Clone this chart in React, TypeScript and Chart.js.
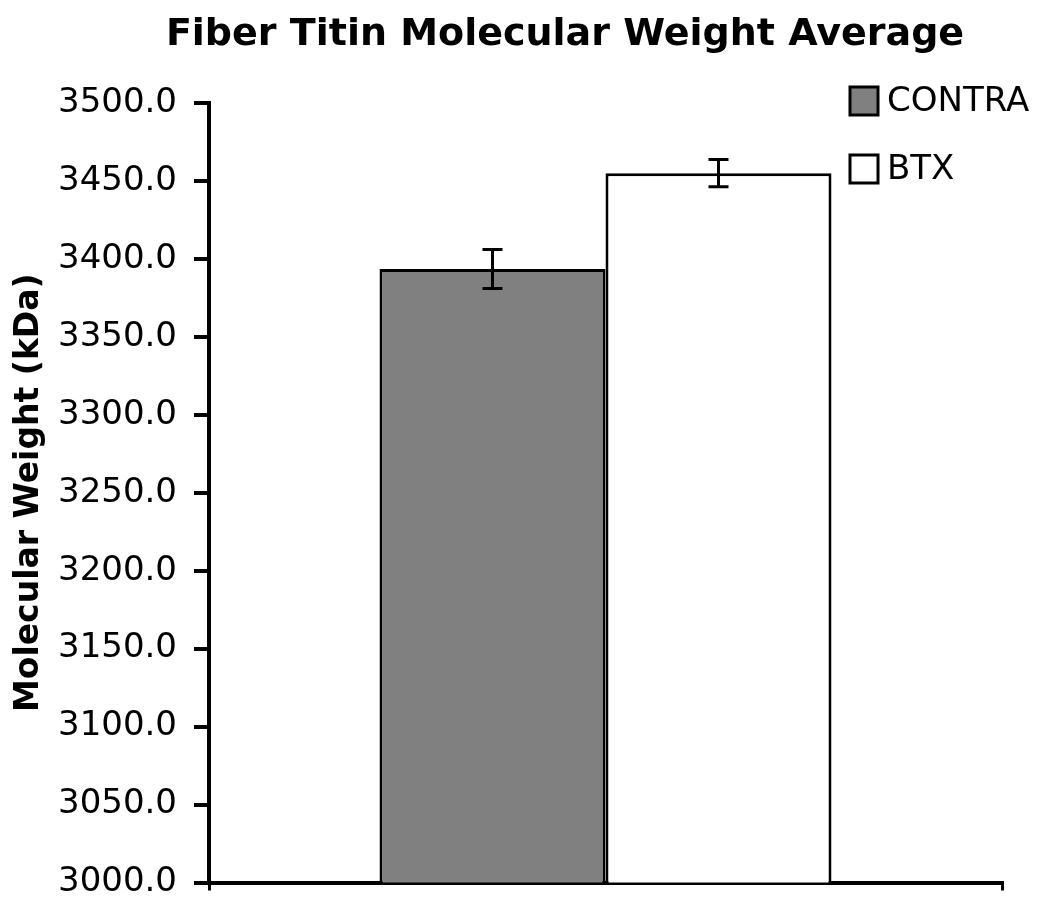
import React, { useEffect, useRef } from "react";
import { Chart, registerables } from "chart.js";

Chart.register(...registerables);

const categories = [""];
const seriesNames = ["CONTRA", "BTX"];
const contraValues = [3393.5];
const btxValues = [3455];
const contraErrors = [12.5];
const btxErrors = [8.8];
const seriesColors = ["#808080", "#ffffff"];
const yTicks = { min: 3000, max: 3500, step: 50 };
const titleText = "Fiber Titin Molecular Weight Average";
const yTitleText = "Molecular Weight (kDa)";

const FONT = "'DejaVu Sans', Verdana, sans-serif";

const errorBarPlugin = {
  id: "errorBars",
  afterDatasetsDraw(chart: any) {
    const ctx = chart.ctx;
    const yScale = chart.scales.y;
    const errs = [contraErrors, btxErrors];
    chart.data.datasets.forEach((ds: any, i: number) => {
      const meta = chart.getDatasetMeta(i);
      meta.data.forEach((bar: any, j: number) => {
        const v = ds.data[j];
        const e = errs[i][j];
        const x = bar.x;
        const yTop = yScale.getPixelForValue(v + e);
        const yBot = yScale.getPixelForValue(v - e);
        ctx.save();
        ctx.strokeStyle = "#000";
        ctx.lineWidth = 3;
        ctx.beginPath();
        ctx.moveTo(x, yTop);
        ctx.lineTo(x, yBot);
        ctx.moveTo(x - 10, yTop);
        ctx.lineTo(x + 10, yTop);
        ctx.moveTo(x - 10, yBot);
        ctx.lineTo(x + 10, yBot);
        ctx.stroke();
        ctx.restore();
      });
    });
  },
};

const titleAndLegendPlugin = {
  id: "titleAndLegend",
  afterDraw(chart: any) {
    const ctx = chart.ctx;
    ctx.save();
    // title
    ctx.fillStyle = "#000";
    ctx.font = `bold 38px ${FONT}`;
    ctx.textAlign = "center";
    ctx.textBaseline = "middle";
    ctx.fillText(titleText, 565, 35);
    // legend
    const x0 = 850;
    const rows = [101, 169];
    chart.data.datasets.forEach((ds: any, i: number) => {
      const cy = rows[i];
      ctx.fillStyle = ds.backgroundColor;
      ctx.fillRect(x0, cy - 14, 28, 28);
      ctx.strokeStyle = "#000";
      ctx.lineWidth = 3;
      ctx.strokeRect(x0, cy - 14, 28, 28);
      ctx.fillStyle = "#000";
      ctx.font = `34px ${FONT}`;
      ctx.textAlign = "left";
      ctx.textBaseline = "middle";
      ctx.fillText(ds.label, x0 + 37, cy + 1);
    });
    ctx.restore();
  },
};

export default function App() {
  const ref = useRef<HTMLCanvasElement | null>(null);

  useEffect(() => {
    document.body.style.margin = "0";
    const canvas = ref.current;
    if (!canvas) return;
    const chart = new Chart(canvas, {
      type: "bar",
      data: {
        labels: categories,
        datasets: [
          {
            label: seriesNames[0],
            data: contraValues,
            backgroundColor: seriesColors[0],
            borderColor: "#000",
            borderWidth: 3,
            borderSkipped: false,
          },
          {
            label: seriesNames[1],
            data: btxValues,
            backgroundColor: seriesColors[1],
            borderColor: "#000",
            borderWidth: 3,
            borderSkipped: false,
          },
        ],
      },
      options: {
        responsive: false,
        animation: false,
        devicePixelRatio: 1,
        layout: { padding: { left: 0, right: 48, top: 103, bottom: 0 } },
        datasets: {
          bar: { categoryPercentage: 0.57, barPercentage: 1 },
        },
        plugins: {
          legend: { display: false },
          tooltip: { enabled: false },
          title: { display: false },
        },
        scales: {
          x: {
            offset: true,
            grid: {
              offset: true,
              drawOnChartArea: false,
              drawTicks: true,
              tickLength: 8,
              color: "#000",
              lineWidth: 3,
            },
            border: { display: true, color: "#000", width: 4 },
            ticks: { display: false },
            afterFit: (scale: any) => {
              scale.height = 24;
            },
          },
          y: {
            min: yTicks.min,
            max: yTicks.max,
            ticks: {
              stepSize: yTicks.step,
              color: "#000",
              font: { family: FONT, size: 34, lineHeight: 0.5 },
              padding: 17,
              callback: (v: any) => Number(v).toFixed(1),
            },
            grid: {
              drawOnChartArea: false,
              drawTicks: true,
              tickLength: 15,
              color: "#000",
              lineWidth: 4,
            },
            border: { display: true, color: "#000", width: 4 },
            title: {
              display: true,
              text: yTitleText,
              color: "#000",
              font: { family: FONT, size: 33, weight: "bold" },
              padding: { top: 10, bottom: 0 },
            },
            afterFit: (scale: any) => {
              scale.width = 209;
            },
          },
        },
      },
      plugins: [errorBarPlugin, titleAndLegendPlugin],
    });
    return () => chart.destroy();
  }, []);

  return (
    <div style={{ width: 1050, height: 908, background: "#fff" }}>
      <canvas ref={ref} width={1050} height={908} />
    </div>
  );
}
